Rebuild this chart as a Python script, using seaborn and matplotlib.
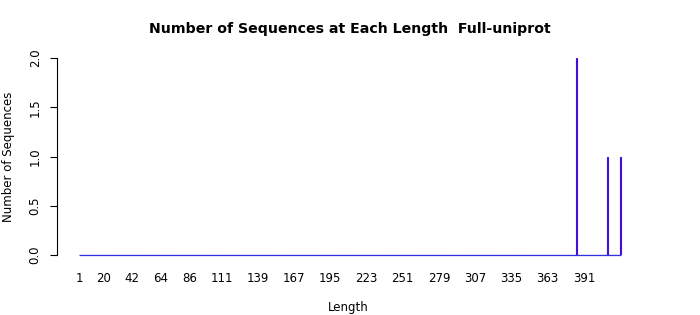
import numpy as np
import pandas as pd
import matplotlib
matplotlib.use("Agg")
import matplotlib.pyplot as plt
import seaborn as sns

# ---- data ----
lengths = np.arange(1, 420)                 # sequence lengths on the x axis
nonzero_lengths = [385, 409, 419]           # lengths with at least one sequence
nonzero_counts = [2, 1, 1]                  # number of sequences at those lengths
tick_labels = [1, 20, 42, 64, 86, 111, 139, 167, 195, 223, 251, 279, 307, 335, 363, 391]
y_ticks = [0.0, 0.5, 1.0, 1.5, 2.0]

counts = np.zeros(len(lengths))
for L, c in zip(nonzero_lengths, nonzero_counts):
    counts[lengths == L] = c
df = pd.DataFrame({"Length": lengths, "Count": counts})

sns.set_theme(style="white")
plt.rcParams["font.family"] = ["DejaVu Sans"]
plt.rcParams["text.color"] = "black"
plt.rcParams["axes.labelcolor"] = "black"
plt.rcParams["xtick.color"] = "black"
plt.rcParams["ytick.color"] = "black"

fig = plt.figure(figsize=(7.0, 3.15), dpi=100)
ax = fig.add_axes([57 / 700, 60 / 315, 583 / 700, 197 / 315])

sns.barplot(data=df, x="Length", y="Count", native_scale=True, width=0.83,
            color="#7a10e8", edgecolor="#4010d8", linewidth=0.8,
            saturation=1, errorbar=None, ax=ax)
# zero-height bar borders form the baseline
ax.hlines(0, lengths.min() - 0.5, lengths.max() + 0.5, color="#3030e0",
          linewidth=0.9, zorder=1, clip_on=False)

ax.set_xlim(-16.2, 434.3)
ax.set_ylim(0, 2)
ax.set_xticks(tick_labels)
ax.set_xticklabels([str(t) for t in tick_labels], fontsize=8.5)
ax.set_yticks(y_ticks)
ax.set_yticklabels([f"{t:.1f}" for t in y_ticks], fontsize=8.5,
                   rotation=90, va="center")
ax.tick_params(axis="x", length=0, pad=12, labelcolor="black")
ax.tick_params(axis="y", length=5, width=0.8, pad=6, color="black",
               labelcolor="black", left=True)

for s in ["top", "right", "bottom"]:
    ax.spines[s].set_visible(False)
ax.spines["left"].set_color("black")
ax.spines["left"].set_linewidth(0.8)

ax.set_xlabel("Length", fontsize=8.5, labelpad=12, color="black")
ax.set_ylabel("Number of Sequences", fontsize=8.5, labelpad=10, color="black")
fig.text(0.5, 1 - 29 / 315, "Number of Sequences at Each Length  Full-uniprot",
         ha="center", va="center", fontsize=10.2, fontweight="bold", color="black")

fig.savefig("out.png", dpi=100)
